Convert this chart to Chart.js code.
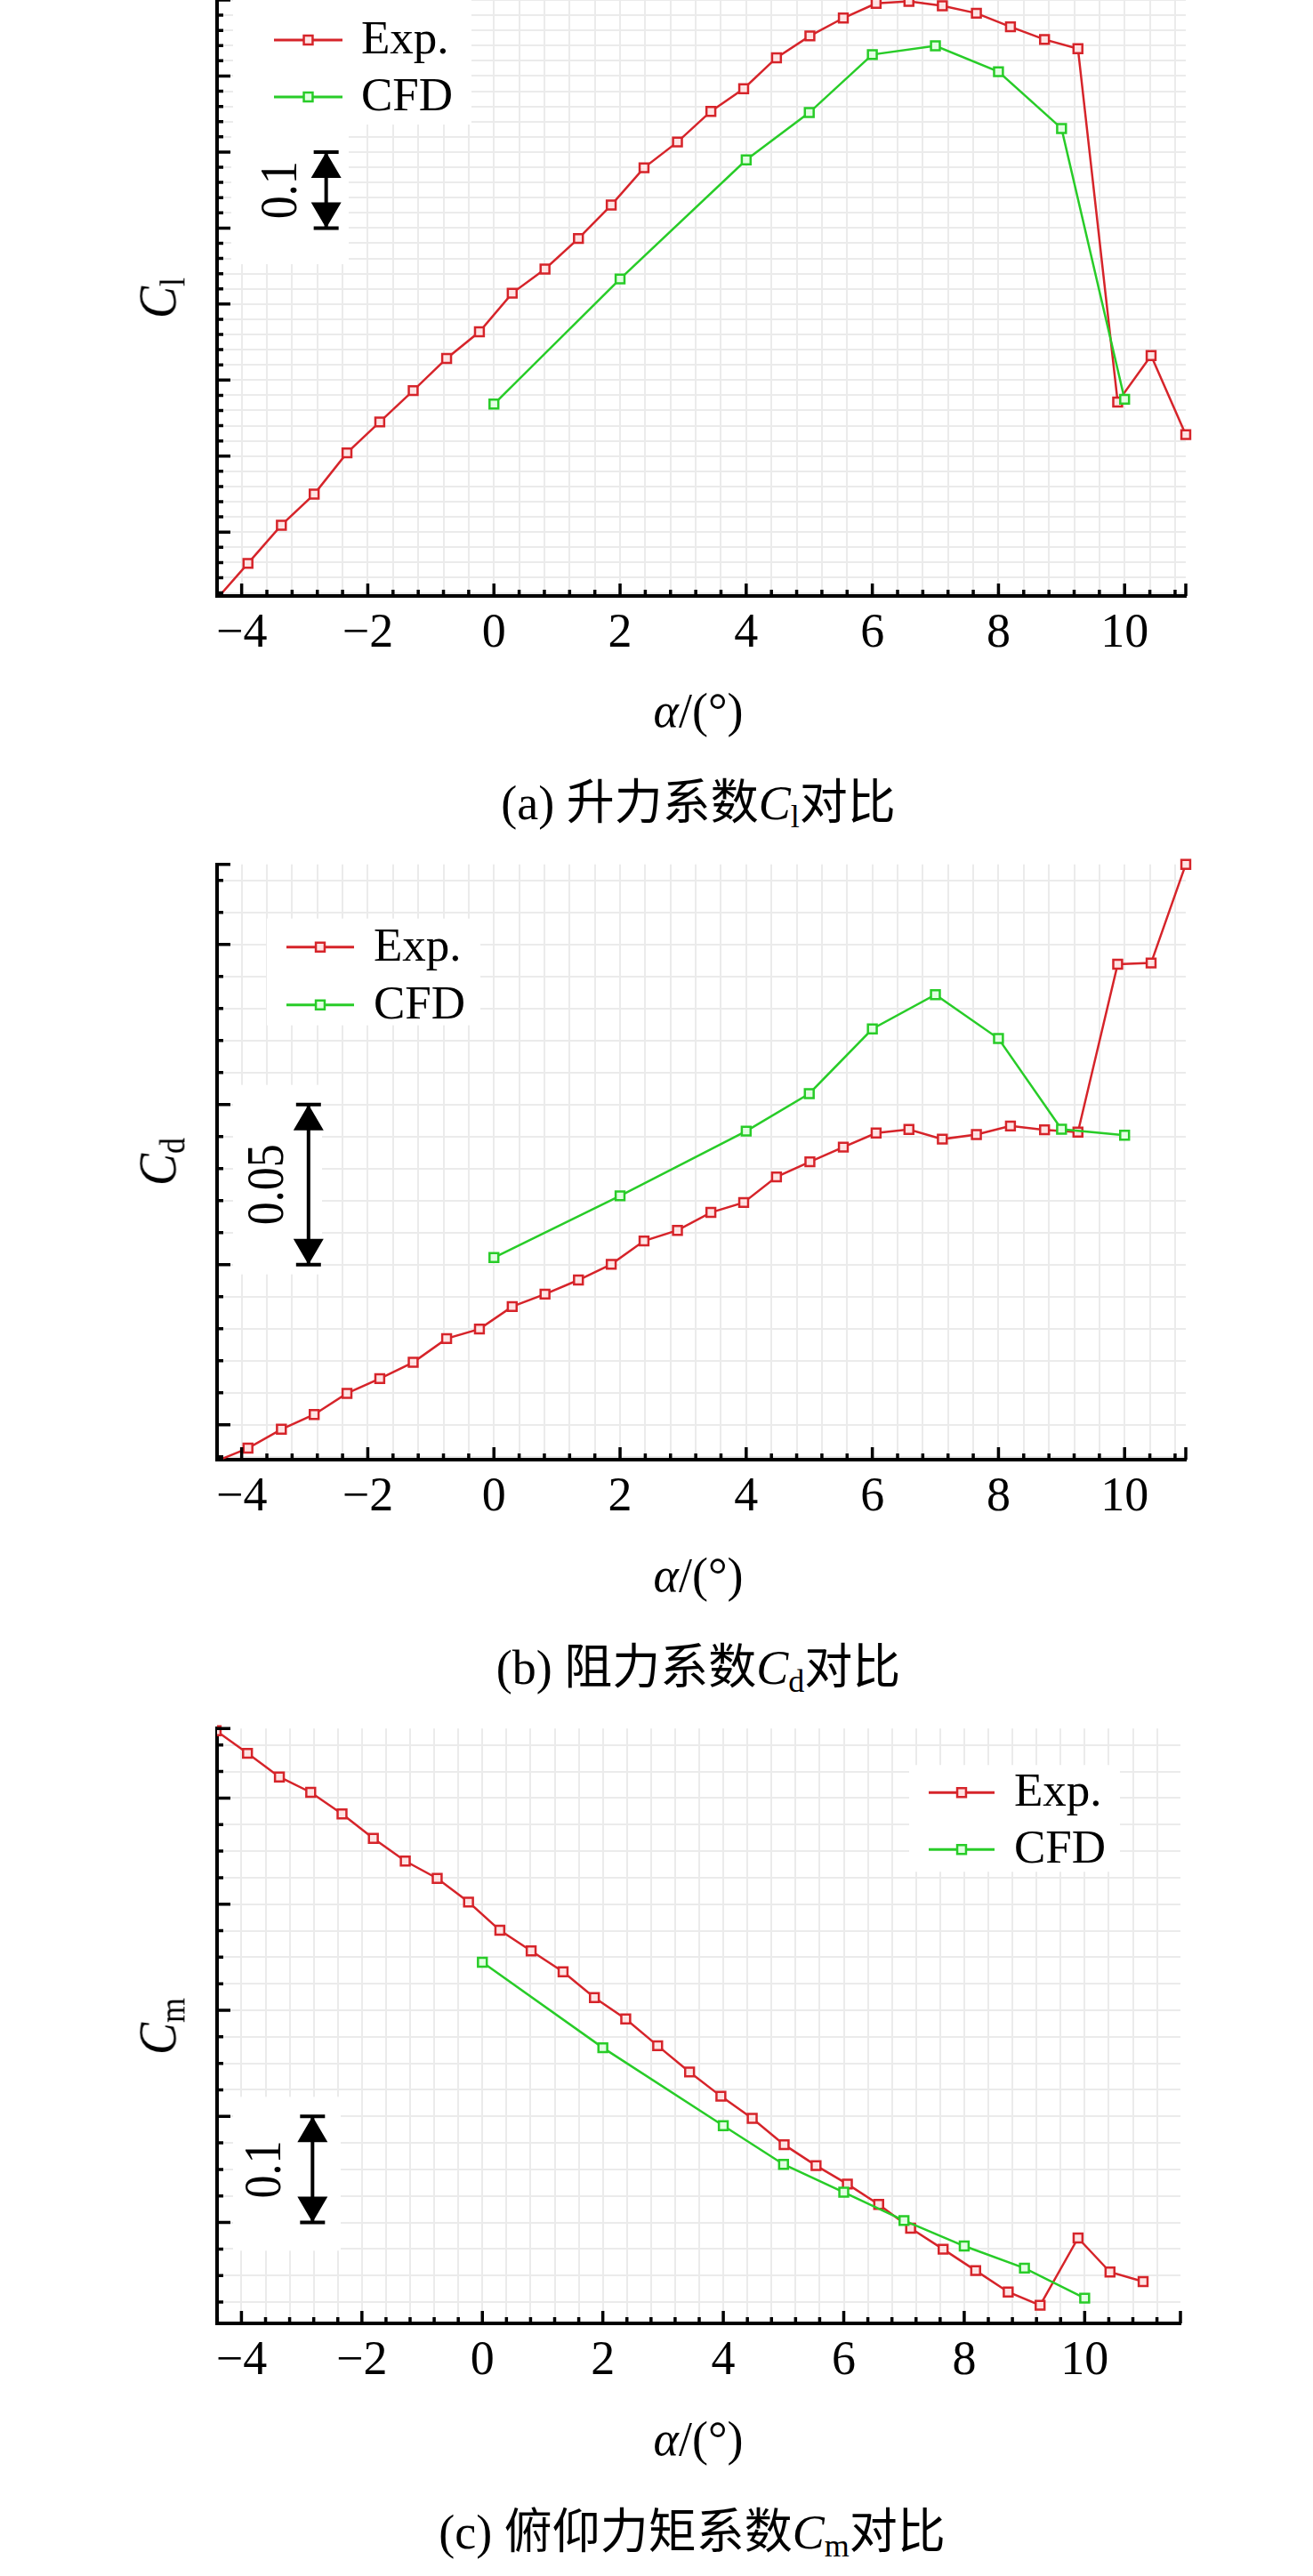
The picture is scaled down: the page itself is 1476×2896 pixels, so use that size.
<!DOCTYPE html>
<html>
<head>
<meta charset="utf-8">
<script src="https://cdn.jsdelivr.net/npm/chart.js@4.4.1/dist/chart.umd.min.js"></script>
<style>
  html, body { margin: 0; padding: 0; background: #fff; }
  body { width: 1476px; height: 2896px; position: relative; overflow: hidden;
         font-family: "Liberation Serif", "Noto Sans CJK SC", serif; color: #000; }
  canvas { position: absolute; left: 0; }
  .txt { position: absolute; transform: translate(-50%, -50%); white-space: nowrap; line-height: 1; font-size: 54px; }
  .ytitle { position: absolute; white-space: nowrap; line-height: 1; font-size: 54px;
            transform: translate(-50%, -50%) rotate(-90deg) scale(1, 1.12); }
  .sub { font-size: 36px; position: relative; top: 9px; font-style: normal; }
</style>
</head>
<body>
<canvas id="c1"></canvas>
<canvas id="c2"></canvas>
<canvas id="c3"></canvas>

<div class="ytitle" style="left:177px; top:335px;"><i>C</i><span class="sub">l</span></div>
<div class="txt" style="left:785px; top:799px;"><i>α</i>/(°)</div>
<div class="txt" style="left:785px; top:903px;">(a) 升力系数<i>C</i><span class="sub">l</span>对比</div>

<div class="ytitle" style="left:177px; top:1306px;"><i>C</i><span class="sub">d</span></div>
<div class="txt" style="left:785px; top:1771px;"><i>α</i>/(°)</div>
<div class="txt" style="left:785px; top:1875px;">(b) 阻力系数<i>C</i><span class="sub">d</span>对比</div>

<div class="ytitle" style="left:177px; top:2278px;"><i>C</i><span class="sub">m</span></div>
<div class="txt" style="left:785px; top:2742px;"><i>α</i>/(°)</div>
<div class="txt" style="left:778px; top:2847px;">(c) 俯仰力矩系数<i>C</i><span class="sub">m</span>对比</div>

<script>
// angles of attack (deg)
const expAlpha = [-4.42, -3.90, -3.37, -2.85, -2.33, -1.81, -1.28, -0.75, -0.23, 0.29,
                  0.81, 1.34, 1.86, 2.38, 2.91, 3.44, 3.96, 4.48, 5.01, 5.54,
                  6.06, 6.58, 7.11, 7.65, 8.19, 8.73, 9.26, 9.89, 10.42, 10.97];
const cfdAlpha = [0, 2, 4, 5, 6, 7, 8, 9, 10];

// lift coefficient
const clExp = [-0.0903, -0.0411, 0.0091, 0.0499, 0.1042, 0.1449, 0.1862, 0.2285, 0.2635, 0.3143,
               0.3461, 0.3863, 0.4302, 0.4793, 0.5132, 0.5535, 0.5833, 0.6240, 0.6528, 0.6763,
               0.6956, 0.6982, 0.6924, 0.6826, 0.6648, 0.6481, 0.6360, 0.1711, 0.2322, 0.1282];
const clCfd = [0.1684, 0.3330, 0.4897, 0.5519, 0.6282, 0.6397, 0.6057, 0.5310, 0.1747];

// drag coefficient
const cdExp = [0.0385, 0.0427, 0.0486, 0.0532, 0.0598, 0.0644, 0.0695, 0.0769, 0.0799, 0.0869,
               0.0908, 0.0952, 0.1001, 0.1074, 0.1107, 0.1163, 0.1194, 0.1274, 0.1321, 0.1367,
               0.1411, 0.1422, 0.1392, 0.1406, 0.1433, 0.1421, 0.1414, 0.1938, 0.1942, 0.2250];
const cdCfd = [0.1022, 0.1215, 0.1417, 0.1534, 0.1736, 0.1843, 0.1706, 0.1423, 0.1404];

// pitching moment coefficient
const cmExp = [0.2635, 0.2422, 0.2199, 0.2054, 0.1850, 0.1620, 0.1406, 0.1243, 0.1020, 0.0754,
               0.0559, 0.0363, 0.0120, -0.0082, -0.0334, -0.0582, -0.0810, -0.1018, -0.1267, -0.1464,
               -0.1638, -0.1830, -0.2054, -0.2252, -0.2453, -0.2655, -0.2780, -0.2146, -0.2467, -0.2557];
const cmCfd = [0.0453, -0.0353, -0.1088, -0.1452, -0.1715, -0.1982, -0.2222, -0.2430, -0.2713];

const xTickLabels = [-4, -2, 0, 2, 4, 6, 8, 10];

const RED = 'rgb(214, 36, 42)';
const RED_FILL = 'rgb(255, 228, 228)';
const GREEN = 'rgb(40, 204, 40)';
const GREEN_FILL = 'rgb(226, 255, 226)';
const GRID = '#ebebeb';
const X_MINOR = 0.4;
const SERIF = '"Liberation Serif", serif';

// panel layout (pixels) and axis ranges
const panels = [
  { id: 'c1', top: 0, bottom: 670, right: 1333,
    xMin: -4.39, xMax: 10.97, yMin: -0.084, yMax: 0.70, yMajor: 0.1, yMinor: 0.02,
    exp: clExp, cfd: clCfd,
    legend: { x0: 64, x1: 141, tx: 162, y: [45, 109] },
    bar: { at: -2.66, from: 0.4, to: 0.5, label: '0.1', dx: -49 },
    masks: [[18, 0, 268, 140], [16, 140, 132, 157]] },
  { id: 'c2', top: 971.7, bottom: 1641, right: 1333,
    xMin: -4.39, xMax: 10.97, yMin: 0.0391, yMax: 0.225, yMajor: 0.05, yMinor: 0.01,
    exp: cdExp, cfd: cdCfd,
    legend: { x0: 78, x1: 154, tx: 176, y: [93, 158] },
    bar: { at: -2.94, from: 0.10, to: 0.15, label: '0.05', dx: -44 },
    masks: [[56, 61, 240, 120], [18, 248, 100, 213]] },
  { id: 'c3', top: 1943.3, bottom: 2612, right: 1327,
    xMin: -4.405, xMax: 11.59, yMin: -0.2951, yMax: 0.2655, yMajor: 0.1, yMinor: 0.025,
    exp: cmExp, cfd: cmCfd,
    legend: { x0: 800, x1: 874, tx: 896, y: [72, 136] },
    bar: { at: -2.82, from: -0.2, to: -0.1, label: '0.1', dx: -52 },
    masks: [[778, 41, 237, 120], [18, 414, 121, 173]] }
];

function lattice(min, max, step) {
  const out = [];
  const k0 = Math.ceil(min / step - 1e-9), k1 = Math.floor(max / step + 1e-9);
  for (let k = k0; k <= k1; k++) out.push(Math.round(k * step * 1e6) / 1e6);
  if (Math.abs(out[0] - min) > 1e-6) out.unshift(min);
  if (Math.abs(out[out.length - 1] - max) > 1e-6) out.push(max);
  return out;
}
const onStep = (v, step) => Math.abs(v / step - Math.round(v / step)) < 1e-6;
const fmt = v => (v < 0 ? '\u2212' + Math.abs(v) : String(v));

function drawMarker(ctx, x, y, r, stroke, fill, lw) {
  const s = r * Math.SQRT1_2;
  ctx.fillStyle = fill; ctx.strokeStyle = stroke; ctx.lineWidth = lw;
  ctx.beginPath(); ctx.rect(x - s, y - s, 2 * s, 2 * s); ctx.fill(); ctx.stroke();
}

function makeDeco(p) {
  return {
    id: 'deco' + p.id,
    beforeDatasetsDraw(chart) {
      // white patches behind legend and scale bar, as in the original figure
      const { ctx, chartArea: a } = chart;
      ctx.save();
      ctx.fillStyle = '#fff';
      p.masks.forEach(m => ctx.fillRect(a.left + m[0], a.top + m[1], m[2], m[3]));
      ctx.restore();
    },
    afterDatasetsDraw(chart) {
      const { ctx, chartArea: a, scales: { x, y } } = chart;
      ctx.save();

      // inward ticks
      ctx.strokeStyle = '#000';
      ctx.lineWidth = 3.5;
      ctx.beginPath();
      x.ticks.forEach(t => {
        const px = x.getPixelForValue(t.value);
        const big = onStep(t.value, 2) || t.value === p.xMax;
        ctx.moveTo(px, a.bottom); ctx.lineTo(px, a.bottom - (big ? 14 : 7));
      });
      y.ticks.forEach(t => {
        const py = y.getPixelForValue(t.value);
        const big = onStep(t.value, p.yMajor) || t.value === p.yMax;
        ctx.moveTo(a.left, py); ctx.lineTo(a.left + (big ? 15 : 7), py);
      });
      ctx.stroke();

      // scale bar
      const b = p.bar;
      const bx = x.getPixelForValue(b.at);
      const yTop = Math.min(y.getPixelForValue(b.from), y.getPixelForValue(b.to));
      const yBot = Math.max(y.getPixelForValue(b.from), y.getPixelForValue(b.to));
      ctx.lineWidth = 4;
      ctx.beginPath();
      ctx.moveTo(bx, yTop); ctx.lineTo(bx, yBot);
      ctx.moveTo(bx - 14, yTop); ctx.lineTo(bx + 14, yTop);
      ctx.moveTo(bx - 14, yBot); ctx.lineTo(bx + 14, yBot);
      ctx.stroke();
      ctx.fillStyle = '#000';
      ctx.beginPath();
      ctx.moveTo(bx, yTop); ctx.lineTo(bx - 17, yTop + 29); ctx.lineTo(bx + 17, yTop + 29); ctx.closePath();
      ctx.moveTo(bx, yBot); ctx.lineTo(bx - 17, yBot - 29); ctx.lineTo(bx + 17, yBot - 29); ctx.closePath();
      ctx.fill();
      ctx.save();
      ctx.translate(bx + b.dx, (yTop + yBot) / 2);
      ctx.rotate(-Math.PI / 2);
      ctx.scale(1, 1.12);
      ctx.font = '52px ' + SERIF;
      ctx.textAlign = 'center';
      ctx.textBaseline = 'middle';
      ctx.fillText(b.label, 0, 0);
      ctx.restore();

      // legend
      const L = p.legend;
      const entries = [['Exp.', RED, RED_FILL], ['CFD', GREEN, GREEN_FILL]];
      entries.forEach((e, i) => {
        const ly = a.top + L.y[i];
        ctx.strokeStyle = e[1]; ctx.lineWidth = 3;
        ctx.beginPath(); ctx.moveTo(a.left + L.x0, ly); ctx.lineTo(a.left + L.x1, ly); ctx.stroke();
        drawMarker(ctx, a.left + (L.x0 + L.x1) / 2, ly, 7, e[1], e[2], 2.5);
        ctx.fillStyle = '#000';
        ctx.font = '53px ' + SERIF;
        ctx.textAlign = 'left';
        ctx.textBaseline = 'alphabetic';
        ctx.fillText(e[0], a.left + L.tx, ly + 15);
      });
      ctx.restore();
    }
  };
}

function series(label, xs, ys, color, fill, order) {
  return {
    label,
    data: xs.map((v, i) => ({ x: v, y: ys[i] })),
    borderColor: color,
    borderWidth: 2.5,
    pointStyle: 'rect',
    pointRadius: 7,
    pointBorderWidth: 2.5,
    pointBorderColor: color,
    pointBackgroundColor: fill,
    tension: 0,
    order,
    clip: { left: 0, top: 12, right: 12, bottom: 0 }
  };
}

function build(p) {
  const canvas = document.getElementById(p.id);
  const cTop = Math.floor(p.top) - 20;
  const padTop = p.top - cTop;
  const h = Math.ceil(p.bottom - cTop) + 80;
  const padBottom = h - (p.bottom - cTop) - 80;
  canvas.width = 1476;
  canvas.height = h;
  canvas.style.top = cTop + 'px';

  new Chart(canvas, {
    type: 'line',
    data: {
      datasets: [
        series('Exp.', expAlpha, p.exp, RED, RED_FILL, 1),
        series('CFD', cfdAlpha, p.cfd, GREEN, GREEN_FILL, 0)
      ]
    },
    options: {
      responsive: false,
      animation: false,
      devicePixelRatio: 1,
      layout: { padding: { left: 244, right: 1476 - p.right, top: padTop, bottom: padBottom } },
      plugins: { legend: { display: false }, tooltip: { enabled: false } },
      scales: {
        x: {
          type: 'linear', min: p.xMin, max: p.xMax,
          afterBuildTicks: ax => { ax.ticks = lattice(p.xMin, p.xMax, X_MINOR).map(v => ({ value: v })); },
          afterFit: ax => { ax.height = 80; },
          grid: { drawTicks: false, lineWidth: 2,
                  color: c => (c.tick && onStep(c.tick.value, X_MINOR) ? GRID : 'rgba(0,0,0,0)') },
          border: { display: true, color: '#000', width: 4 },
          ticks: {
            autoSkip: false, maxRotation: 0, minRotation: 0, padding: 10, color: '#000',
            font: { family: SERIF, size: 54 },
            callback: v => {
              const l = xTickLabels.find(t => Math.abs(t - v) < 1e-6);
              return l === undefined ? '' : fmt(l);
            }
          }
        },
        y: {
          type: 'linear', min: p.yMin, max: p.yMax,
          afterBuildTicks: ax => { ax.ticks = lattice(p.yMin, p.yMax, p.yMinor).map(v => ({ value: v })); },
          afterFit: ax => { ax.width = 0; },
          grid: { drawTicks: false, lineWidth: 2,
                  color: c => (c.tick && onStep(c.tick.value, p.yMinor) ? GRID : 'rgba(0,0,0,0)') },
          border: { display: true, color: '#000', width: 4 },
          ticks: { display: false }
        }
      }
    },
    plugins: [makeDeco(p)]
  });
}

panels.forEach(build);
</script>
</body>
</html>
